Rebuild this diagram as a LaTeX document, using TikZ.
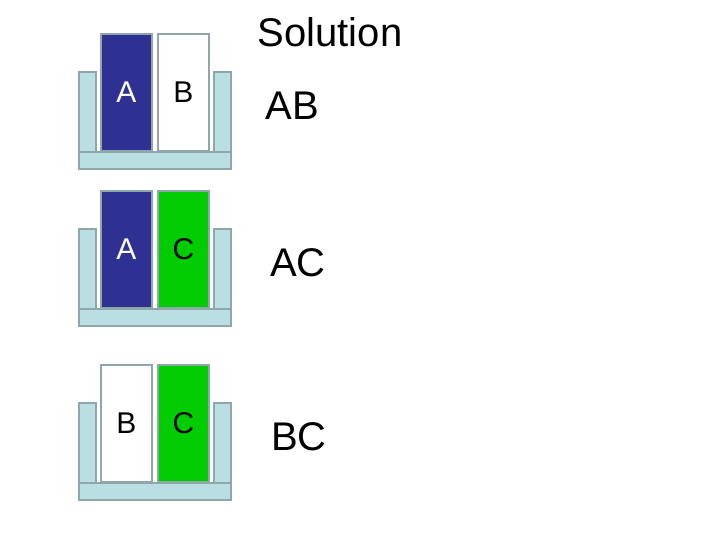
\documentclass[tikz,border=0pt]{standalone}
\usepackage{fontspec}
\setmainfont{Liberation Sans}
\definecolor{dblue}{HTML}{2E3192}
\definecolor{grn}{HTML}{00CC00}
\definecolor{lblue}{HTML}{BADFE2}
\definecolor{edge}{HTML}{8FA6AA}
\begin{document}
\begin{tikzpicture}[x=1pt,y=-1pt,
  wall/.style={fill=lblue,draw=edge,line width=1.2pt},
  blk/.style={draw=edge,line width=1.2pt,minimum width=51pt,minimum height=117pt,inner sep=0pt,font=\fontsize{30}{30}\selectfont},
  lbl/.style={font=\fontsize{40}{40}\selectfont}]
\useasboundingbox (0,0) rectangle (720,540);
\node[lbl] (title) at (330,32) {Solution};
\foreach \dy/\ca/\ta/\la/\cb/\tb/\lb/\res/\rx [count=\i] in
  {0/dblue/white/A/white/black/B/AB/292, 157/dblue/white/A/grn/black/C/AC/298, 331/white/black/B/grn/black/C/BC/299}{
  \draw[wall] (79,72+\dy) rectangle (96,152+\dy);
  \draw[wall] (214,72+\dy) rectangle (231,152+\dy);
  \draw[wall] (79,152+\dy) rectangle (231,169+\dy);
  \node[blk,fill=\ca,text=\ta] (l\i) at (126.5,92.5+\dy) {\la};
  \node[blk,fill=\cb,text=\tb] (r\i) at (183.5,92.5+\dy) {\lb};
  \node[lbl] (res\i) at (\rx,106+\dy) {\res};
}
\end{tikzpicture}
\end{document}
